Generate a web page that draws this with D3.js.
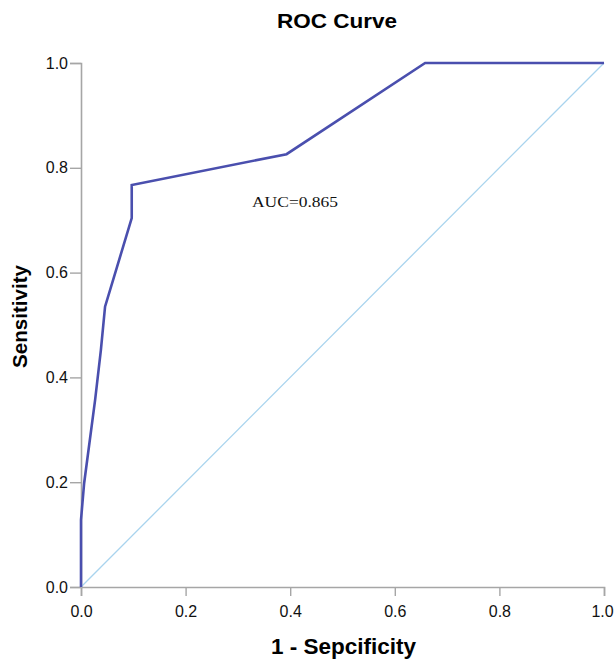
<!DOCTYPE html>
<html>
<head>
<meta charset="utf-8">
<script src="https://cdn.jsdelivr.net/npm/d3@7"></script>
<style>
  html, body { margin: 0; padding: 0; background: #fff; }
  svg { display: block; }
</style>
</head>
<body>
<svg id="chart" width="614" height="660"></svg>
<script>
// ---- data ----
const fpr = [0, 0, 0.006, 0.027, 0.038, 0.046, 0.097, 0.097, 0.393, 0.658, 1];
const tpr = [0, 0.128, 0.198, 0.357, 0.452, 0.535, 0.704, 0.767, 0.826, 1, 1];
const refX = [0, 1];
const refY = [0, 1];
const tickValues = [0, 0.2, 0.4, 0.6, 0.8, 1.0];
const chartTitle = "ROC Curve";
const xTitle = "1 - Sepcificity";
const yTitle = "Sensitivity";
const aucLabel = "AUC=0.865";
const aucPos = [0.327, 0.725];

// ---- layout ----
const svg = d3.select("#chart");
const x = d3.scaleLinear().domain([0, 1]).range([81, 604]);
const y = d3.scaleLinear().domain([0, 1]).range([587, 63]);
const axisColor = "#a6a6a6";

// axes
const xAxis = svg.append("g").attr("transform", `translate(0,${y(0)})`)
  .call(d3.axisBottom(x).tickValues(tickValues).tickFormat(d3.format(".1f")).tickSizeOuter(0).tickSize(9).tickPadding(10));
const yAxis = svg.append("g").attr("transform", `translate(${x(0)},0)`)
  .call(d3.axisLeft(y).tickValues(tickValues).tickFormat(d3.format(".1f")).tickSizeOuter(0).tickSize(11).tickPadding(2));
[xAxis, yAxis].forEach(g => {
  g.select(".domain").attr("stroke", axisColor).attr("stroke-width", 1.6);
  g.selectAll(".tick line").attr("stroke", axisColor).attr("stroke-width", 1.4);
  g.selectAll(".tick text").attr("fill", "#111")
    .style("font-family", "'Liberation Sans', Arial, sans-serif").style("font-size", "16px");
});
xAxis.selectAll(".tick text").filter(d => d === 1).attr("dx", "-2");

// reference diagonal
const line = d3.line().x(d => x(d[0])).y(d => y(d[1]));
svg.append("path")
  .datum(d3.zip(refX, refY))
  .attr("d", line)
  .attr("fill", "none")
  .attr("stroke", "#a9d4ee")
  .attr("stroke-width", 1.3);

// ROC curve
svg.append("path")
  .datum(d3.zip(fpr, tpr))
  .attr("d", line)
  .attr("fill", "none")
  .attr("stroke", "#4a4fae")
  .attr("stroke-width", 2.6)
  .attr("stroke-linejoin", "miter");

// texts
svg.append("text").attr("x", 337).attr("y", 28)
  .attr("text-anchor", "middle")
  .style("font-family", "'Liberation Sans', Arial, sans-serif")
  .style("font-weight", "bold").style("font-size", "21px")
  .attr("textLength", 120).attr("lengthAdjust", "spacingAndGlyphs")
  .text(chartTitle);

svg.append("text").attr("x", 343.5).attr("y", 654)
  .attr("text-anchor", "middle")
  .style("font-family", "'Liberation Sans', Arial, sans-serif")
  .style("font-weight", "bold").style("font-size", "22px")
  .attr("textLength", 145).attr("lengthAdjust", "spacingAndGlyphs")
  .text(xTitle);

svg.append("text")
  .attr("transform", "translate(27,316.5) rotate(-90)")
  .attr("text-anchor", "middle")
  .style("font-family", "'Liberation Sans', Arial, sans-serif")
  .style("font-weight", "bold").style("font-size", "21px")
  .attr("textLength", 103).attr("lengthAdjust", "spacingAndGlyphs")
  .text(yTitle);

svg.append("text").attr("x", x(aucPos[0])).attr("y", y(aucPos[1]))
  .style("font-family", "'Liberation Serif', 'Times New Roman', serif")
  .style("font-size", "15.5px").attr("fill", "#111")
  .attr("textLength", 86).attr("lengthAdjust", "spacingAndGlyphs")
  .text(aucLabel);
</script>
</body>
</html>
